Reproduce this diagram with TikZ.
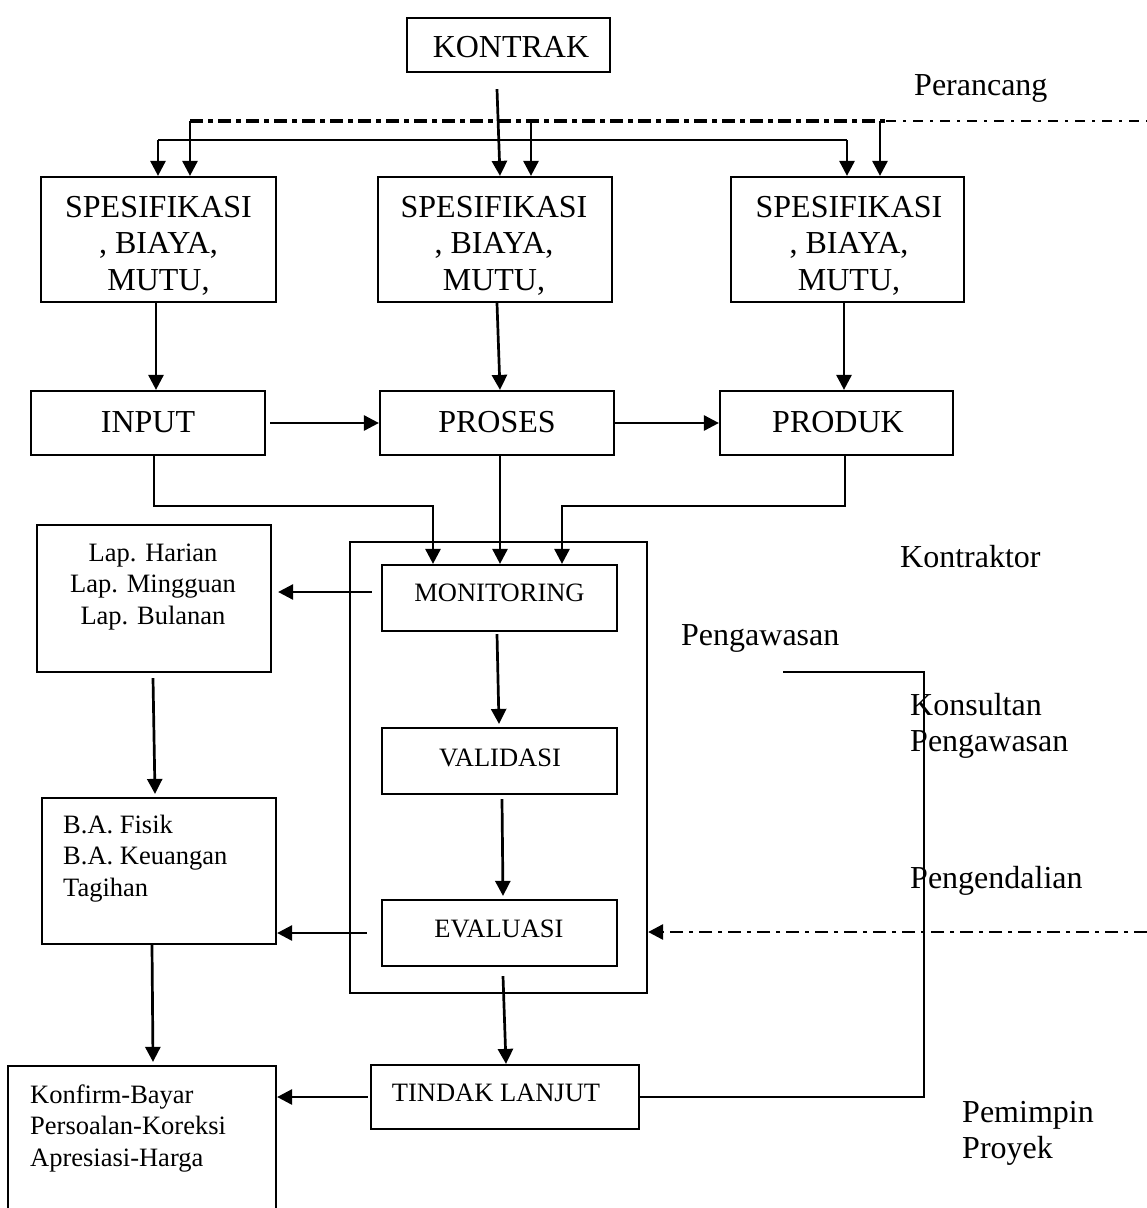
\documentclass[tikz,border=0pt]{standalone}
\usepackage{fontspec}
\setmainfont{Liberation Serif}
\usetikzlibrary{arrows.meta,calc}

% a block of lines whose baseline is that of its first line
\newcommand\linesof[2]{\begin{tabular}[t]{@{}#1@{}}#2\end{tabular}}

\begin{document}
\begin{tikzpicture}[x=1pt,y=-1pt,
  box/.style={draw,line width=2.2pt,inner sep=0pt},
  big/.style={font=\fontsize{32}{36.5}\selectfont},
  small/.style={font=\fontsize{26.5}{31.5}\selectfont},
  txt/.style={inner sep=0pt,anchor=base},
  ltxt/.style={inner sep=0pt,anchor=base west},
  tip/.tip={Triangle[length=15pt,width=15pt]},
  arr/.style={line width=2.7pt,-tip},
  link/.style={line width=2.7pt},
  thinlink/.style={line width=2pt},
  ddheavy/.style={line width=3.6pt,dash pattern=on 13pt off 5pt on 5pt off 5pt},
  ddlight/.style={line width=1.6pt,dash pattern=on 10pt off 7pt on 3pt off 7pt},
  ddmid/.style={line width=2.8pt,dash pattern=on 13pt off 6pt on 4pt off 6pt},
]
\path[use as bounding box,fill=white] (0,0) rectangle (1147,1208);
\clip (0,0) rectangle (1147,1208);

% ---------- boxes ----------
\node[box,minimum width=203,minimum height=54] (kontrak) at (508.5,45) {};
\node[box,minimum width=235,minimum height=125] (spec1) at (158.5,239.5) {};
\node[box,minimum width=234,minimum height=125] (spec2) at (495,239.5) {};
\node[box,minimum width=233,minimum height=125] (spec3) at (847.5,239.5) {};
\node[box,minimum width=234,minimum height=64] (input) at (148,423) {};
\node[box,minimum width=234,minimum height=64] (proses) at (497,423) {};
\node[box,minimum width=233,minimum height=64] (produk) at (836.5,423) {};
\node[box,minimum width=297,minimum height=451] (frame) at (498.5,767.5) {};
\node[box,minimum width=235,minimum height=66] (mon) at (499.5,598) {};
\node[box,minimum width=235,minimum height=66] (val) at (499.5,761) {};
\node[box,minimum width=235,minimum height=66] (eval) at (499.5,933) {};
\node[box,minimum width=268,minimum height=64] (tindak) at (505,1097) {};
\node[box,minimum width=234,minimum height=147] (lap) at (154,598.5) {};
\node[box,minimum width=234,minimum height=146] (ba) at (159,871) {};
\node[box,minimum width=268,minimum height=174] (konfirm) at (142,1153) {};

% ---------- box texts ----------
\node[txt,big] (kontrak-t) at (511,57) {KONTRAK};
\node[txt,big] (spec1-t) at (158.5,217) {\linesof{c}{SPESIFIKASI\\, BIAYA,\\MUTU,}};
\node[txt,big] (spec2-t) at (494,217) {\linesof{c}{SPESIFIKASI\\, BIAYA,\\MUTU,}};
\node[txt,big] (spec3-t) at (849,217) {\linesof{c}{SPESIFIKASI\\, BIAYA,\\MUTU,}};
\node[txt,big] (input-t) at (148,432) {INPUT};
\node[txt,big] (proses-t) at (497,432) {PROSES};
\node[txt,big] (produk-t) at (838,432) {PRODUK};
\node[txt,small] (mon-t) at (499.5,601) {MONITORING};
\node[txt,small] (val-t) at (500,766) {VALIDASI};
\node[txt,small] (eval-t) at (499,937) {EVALUASI};
\node[txt,small] (tindak-t) at (496,1101) {TINDAK LANJUT};
\node[txt,small] (lap-t) at (153,561) {\linesof{c}{Lap. Harian\\Lap. Mingguan\\Lap. Bulanan}};
\node[ltxt,small] (ba-t) at (63,833) {\linesof{l}{B.A. Fisik\\B.A. Keuangan\\Tagihan}};
\node[ltxt,small] (konfirm-t) at (30,1103) {\linesof{l}{Konfirm-Bayar\\Persoalan-Koreksi\\Apresiasi-Harga}};

% ---------- role labels ----------
\node[ltxt,big] (perancang) at (914,95) {Perancang};
\node[ltxt,big] (kontraktor) at (900,567) {Kontraktor};
\node[ltxt,big] (pengawasan) at (681,645) {Pengawasan};
\node[ltxt,big] (konsultan) at (910,715) {\linesof{l}{Konsultan\\Pengawasan}};
\node[ltxt,big] (pengendalian) at (910,888) {Pengendalian};
\node[ltxt,big] (pemimpin) at (962,1122) {\linesof{l}{Pemimpin\\Proyek}};

% ---------- contract distribution ----------
\coordinate (busL) at (158,140);
\coordinate (busR) at (847,140);
\draw[link] (busL) -- (busR);
\draw[arr] (busL) -- (spec1.north -| busL);
\draw[arr] (busR) -- (spec3.north -| busR);
\draw[arr] ($(kontrak.south)+(-11.5,16)$) -- ($(spec2.north)+(5,0)$);

% ---------- designer line (dash-dot) ----------
\coordinate (dL) at (190,121);
\coordinate (dM) at (531,121);
\coordinate (dR) at (880,121);
\coordinate (dS) at (886,121);
\coordinate (dE) at (1147,121);
\draw[ddheavy] (dL) -- (dS);
\draw[ddlight] (dS) -- (dE);
\draw[arr] (dL) -- (spec1.north -| dL);
\draw[arr] (dM) -- (spec2.north -| dM);
\draw[arr] (dR) -- (spec3.north -| dR);

% ---------- specification to process row ----------
\draw[arr] ($(spec1.south)+(-2.5,0)$) -- ($(input.north)+(8,0)$);
\draw[arr] ($(spec2.south)+(2,0)$) -- ($(proses.north)+(3,0)$);
\draw[arr] ($(spec3.south)+(-3.5,0)$) -- ($(produk.north)+(7.5,0)$);
\draw[arr] ($(input.east)+(4,0)$) -- (proses.west);
\draw[arr] (proses.east) -- (produk.west);

% ---------- into monitoring ----------
\draw[arr] ($(input.south)+(6,0)$) -- (154,506) -- (433,506) -- ($(mon.north)+(-66.5,0)$);
\draw[arr] ($(proses.south)+(3,0)$) -- ($(mon.north)+(0.5,0)$);
\draw[arr] ($(produk.south)+(8.5,0)$) -- (845,506) -- (562,506) -- ($(mon.north)+(62.5,0)$);

% ---------- inside the control frame ----------
\draw[arr] ($(mon.south)+(-2.5,2)$) -- ($(val.north)+(-0.5,-3)$);
\draw[arr] ($(val.south)+(2.5,4)$) -- ($(eval.north)+(3.5,-3)$);
\draw[arr] ($(eval.south)+(3.5,9)$) -- ($(tindak.north)+(1,0)$);

% ---------- reports ----------
\draw[arr] ($(mon.west)+(-9,-6)$) -- ($(lap.east |- mon.west)+(6,-6)$);
\draw[arr] ($(eval.west)+(-14,0)$) -- (ba.east |- eval.west);
\draw[arr] ($(tindak.west)+(-2,0)$) -- (konfirm.east |- tindak.west);
\draw[arr] ($(lap.south)+(-1,5)$) -- ($(ba.north)+(-4,-3)$);
\draw[arr] ($(ba.south)+(-7,0)$) -- ($(konfirm.north)+(11,-3)$);

% ---------- supervision loop and control line ----------
\draw[thinlink] (tindak.east) -- (924,1097) -- (924,672) -- (783,672);
\coordinate (cE) at (1147,932);
\draw[ddmid,-tip] (cE) -- (frame.east |- cE);
\end{tikzpicture}
\end{document}
